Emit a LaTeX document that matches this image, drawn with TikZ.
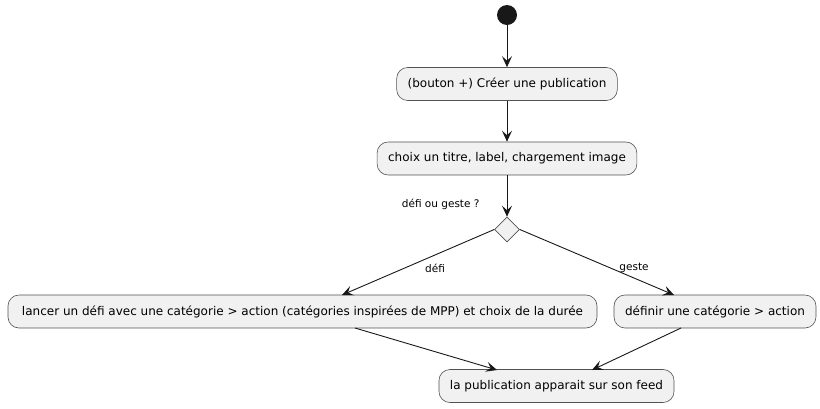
\documentclass[tikz,border=0pt]{standalone}
\usepackage{fontspec}
\setmainfont{DejaVu Sans}
\usetikzlibrary{arrows.meta,shapes.geometric}
\definecolor{boxfill}{HTML}{F1F1F1}
\definecolor{edge}{HTML}{181818}
\begin{document}
\begin{tikzpicture}[x=1pt,y=-1pt,
  act/.style={draw=edge!75, line width=0.6pt, fill=boxfill, rounded corners=11pt,
    minimum height=33pt, inner xsep=11pt, font=\fontsize{12}{14}\selectfont, text=black},
  dec/.style={diamond, draw=edge!75, line width=0.6pt, fill=boxfill, minimum width=25pt, minimum height=25pt, inner sep=0pt},
  conn/.style={draw=edge, line width=0.9pt, -{Stealth[length=11pt,width=10pt,inset=4.5pt]}},
  lab/.style={font=\fontsize{10.5}{12}\selectfont, text=black}]
\useasboundingbox (0,0) rectangle (820,408);
\node[circle, fill=edge, minimum size=20pt, inner sep=0pt] (start) at (507,15) {};
\node[act, minimum width=219pt] (b1) at (507,84) {(bouton +) Créer une publication};
\node[act, minimum width=256pt] (b2) at (507,158.5) {choix un titre, label, chargement image};
\node[dec] (d) at (507,229.5) {};
\node[lab, anchor=east] (q) at (483,204) {défi ou geste ?};
\node[act, minimum width=589pt] (b3) at (302.5,311.5) {lancer un défi avec une catégorie > action (catégories inspirées de MPP) et choix de la durée};
\node[act, minimum width=200pt] (b4) at (715,311.5) {définir une catégorie > action};
\node[act, minimum width=233pt] (b5) at (556.5,386) {la publication apparait sur son feed};
\coordinate (b3t) at (342,295);
\coordinate (b4t) at (674,295);
\coordinate (b3b) at (355,328);
\coordinate (b4b) at (681,328);
\coordinate (b5l) at (497,370);
\coordinate (b5r) at (592,370);
\node[lab] (ld) at (435,268) {défi};
\node[lab] (lg) at (634,268) {geste};
\draw[conn] (start) -- (b1);
\draw[conn] (b1) -- (b2);
\draw[conn] (b2) -- (d.north);
\draw[conn] (d.west) -- (b3t);
\draw[conn] (d.east) -- (b4t);
\draw[conn] (b3b) -- (b5l);
\draw[conn] (b4b) -- (b5r);
\end{tikzpicture}
\end{document}
